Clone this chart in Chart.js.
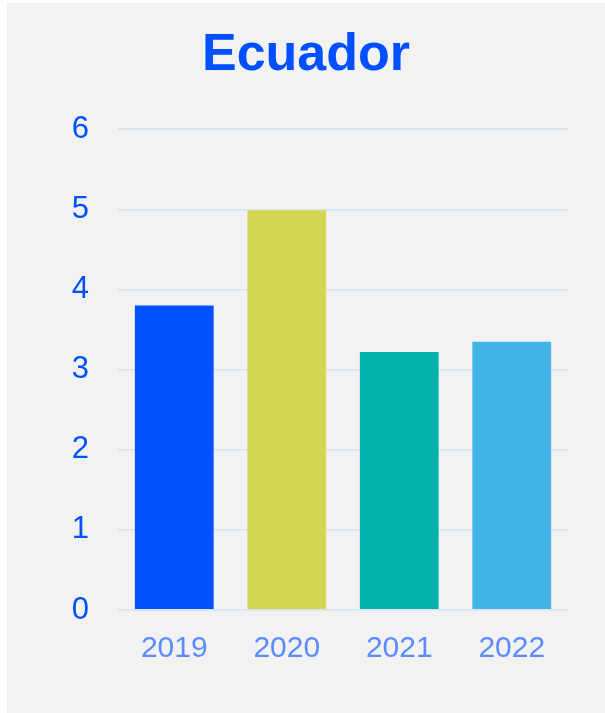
<!DOCTYPE html>
<html lang="en">
<head>
    <meta charset="UTF-8">
    <title>Ecuador</title>
    <script src="https://cdn.jsdelivr.net/npm/chart.js"></script>
    <style>
        body { margin: 0; background: #ffffff; }
        .panel {
            position: absolute;
            left: 7px;
            top: 3px;
            width: 598px;
            height: 710px;
            background: #f2f2f2;
        }
    </style>
</head>
<body>
    <div class="panel">
        <canvas id="chart" width="598" height="710"></canvas>
    </div>
    <script>
        // values
        const years = ['2019', '2020', '2021', '2022'];
        const values = [3.8, 4.99, 3.22, 3.35];
        const barColors = ['#0050ff', '#d4d755', '#00b2aa', '#42b5e6'];
        const yTicks = [0, 1, 2, 3, 4, 5, 6];

        const ctx = document.getElementById('chart').getContext('2d');
        new Chart(ctx, {
            type: 'bar',
            data: {
                labels: years,
                datasets: [{
                    data: values,
                    backgroundColor: barColors,
                    borderWidth: 0,
                    categoryPercentage: 0.7,
                    barPercentage: 1.0
                }]
            },
            options: {
                responsive: false,
                animation: false,
                // symmetric side padding keeps the title centred on the panel
                layout: { padding: { left: 37, right: 37, top: 0, bottom: 0 } },
                plugins: {
                    legend: { display: false },
                    tooltip: { enabled: false },
                    title: {
                        display: true,
                        text: 'Ecuador',
                        color: '#0050ff',
                        font: { family: 'Liberation Sans, Arial, sans-serif', size: 52, weight: 'bold' },
                        padding: { top: 21, bottom: 43 }
                    }
                },
                scales: {
                    x: {
                        grid: { display: false },
                        border: { display: false },
                        ticks: {
                            color: '#5b8cff',
                            font: { family: 'Liberation Sans, Arial, sans-serif', size: 30 },
                            padding: 13
                        },
                        afterFit: (scale) => { scale.height = 103; }
                    },
                    y: {
                        min: 0,
                        max: 6,
                        afterBuildTicks: (scale) => { scale.ticks = yTicks.map(v => ({ value: v })); },
                        grid: { color: '#dbe5f8', lineWidth: 2, drawTicks: false },
                        border: { display: false },
                        ticks: {
                            color: '#0050ff',
                            font: { family: 'Liberation Sans, Arial, sans-serif', size: 31 },
                            padding: 29
                        },
                        afterFit: (scale) => { scale.width = 74; }
                    }
                }
            }
        });
    </script>
</body>
</html>
